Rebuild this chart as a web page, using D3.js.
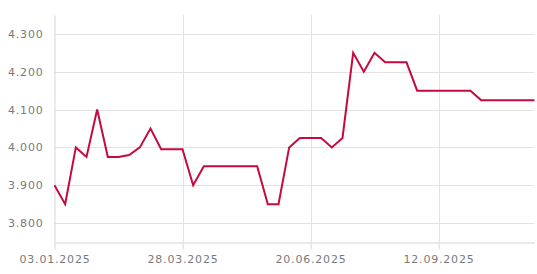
<!DOCTYPE html>
<html>
<head>
<meta charset="utf-8">
<script src="https://cdn.jsdelivr.net/npm/d3@7"></script>
<style>
  body { margin: 0; background: #fff; }
  svg { display: block; }
  .tick text { font-family: "DejaVu Sans", sans-serif; font-size: 11px; fill: #7a7a7a; letter-spacing: 0.8px; }
</style>
</head>
<body>
<svg></svg>
<script>
// weekly dates and prices
var dates = [
  "03.01.2025", "10.01.2025", "17.01.2025", "24.01.2025", "31.01.2025",
  "07.02.2025", "14.02.2025", "21.02.2025", "28.02.2025",
  "07.03.2025", "14.03.2025", "21.03.2025", "28.03.2025",
  "04.04.2025", "11.04.2025", "18.04.2025", "25.04.2025",
  "02.05.2025", "09.05.2025", "16.05.2025", "23.05.2025", "30.05.2025",
  "06.06.2025", "13.06.2025", "20.06.2025", "27.06.2025",
  "04.07.2025", "11.07.2025", "18.07.2025", "25.07.2025",
  "01.08.2025", "08.08.2025", "15.08.2025", "22.08.2025", "29.08.2025",
  "05.09.2025", "12.09.2025", "19.09.2025", "26.09.2025",
  "03.10.2025", "10.10.2025", "17.10.2025", "24.10.2025", "31.10.2025",
  "07.11.2025", "14.11.2025"
];
var prices = [
  3.900, 3.850, 4.000, 3.975, 4.100, 3.975, 3.975, 3.980, 4.000, 4.050,
  3.995, 3.995, 3.995, 3.900, 3.950, 3.950, 3.950, 3.950, 3.950, 3.950,
  3.850, 3.850, 4.000, 4.025, 4.025, 4.025, 4.000, 4.025, 4.250, 4.200,
  4.250, 4.225, 4.225, 4.225, 4.150, 4.150, 4.150, 4.150, 4.150, 4.150,
  4.125, 4.125, 4.125, 4.125, 4.125, 4.125
];
var xTickLabels = ["03.01.2025", "28.03.2025", "20.06.2025", "12.09.2025"];
var yTickValues = [3.8, 3.9, 4.0, 4.1, 4.2, 4.3];

var width = 537;
var height = 274;
var margin = { top: 15, right: 2.5, bottom: 32, left: 54.5 };

var parse = d3.timeParse("%d.%m.%Y");
var values = dates.map((d, i) => ({ date: parse(d), price: prices[i] }));

var svg = d3.select("svg").attr("width", width).attr("height", height);

var xScale = d3
  .scaleTime()
  .domain(d3.extent(values, (d) => d.date))
  .range([margin.left, width - margin.right]);

var yScale = d3
  .scaleLinear()
  .domain([3.75, 4.35])
  .range([height - margin.bottom, margin.top]);

// gridlines
svg
  .append("g")
  .selectAll("line")
  .data(yTickValues)
  .enter()
  .append("line")
  .attr("x1", margin.left)
  .attr("x2", width - margin.right)
  .attr("y1", (d) => Math.round(yScale(d)) + 0.5)
  .attr("y2", (d) => Math.round(yScale(d)) + 0.5)
  .attr("stroke", "#e3e3e3");

svg
  .append("g")
  .selectAll("line")
  .data(xTickLabels.slice(1))
  .enter()
  .append("line")
  .attr("x1", (d) => Math.round(xScale(parse(d))) + 0.5)
  .attr("x2", (d) => Math.round(xScale(parse(d))) + 0.5)
  .attr("y1", margin.top)
  .attr("y2", height - margin.bottom)
  .attr("stroke", "#e3e3e3");

// axes
var xAxis = d3
  .axisBottom(xScale)
  .tickValues(xTickLabels.map(parse))
  .tickFormat(d3.timeFormat("%d.%m.%Y"))
  .tickSizeInner(7)
  .tickSizeOuter(0)
  .tickPadding(6);

var gx = svg
  .append("g")
  .attr("transform", "translate(0," + (Math.round(height - margin.bottom) + 0.5) + ")")
  .call(xAxis);
gx.select(".domain").attr("stroke", "#d6d6d6");
gx.selectAll(".tick line").attr("stroke", "#d6d6d6");

var yAxis = d3
  .axisLeft(yScale)
  .tickValues(yTickValues)
  .tickFormat(d3.format(".3f"))
  .tickSize(0)
  .tickPadding(11);

var gy = svg
  .append("g")
  .attr("transform", "translate(" + Math.floor(margin.left) + ".5,0)")
  .call(yAxis);
gy.select(".domain").attr("stroke", "#d6d6d6");

// line
var line = d3
  .line()
  .x((d) => xScale(d.date))
  .y((d) => yScale(d.price));

svg
  .append("path")
  .datum(values)
  .attr("fill", "none")
  .attr("stroke", "#c40a3e")
  .attr("stroke-width", 2)
  .attr("stroke-linejoin", "miter")
  .attr("d", line);
</script>
</body>
</html>
